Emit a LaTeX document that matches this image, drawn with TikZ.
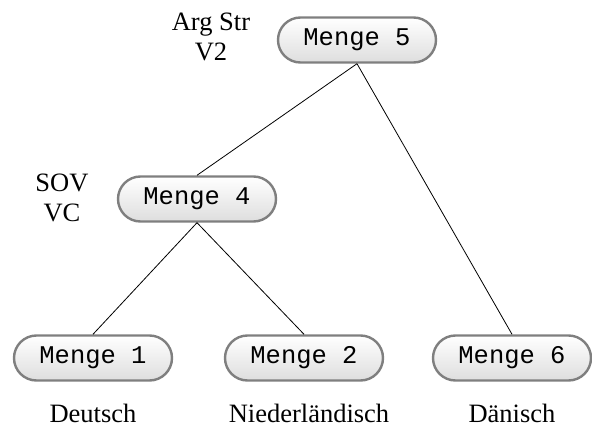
\documentclass[tikz,border=0pt]{standalone}
\usepackage{fontspec}
\setmainfont{Liberation Serif}
\newfontfamily\boxfont{Liberation Mono}
\usetikzlibrary{shapes.misc}
\definecolor{rimgray}{HTML}{7F7F7F}
\begin{document}
\begin{tikzpicture}[x=1pt,y=-1pt,
  setbox/.style={rounded rectangle, draw=rimgray, line width=2.4pt,
    top color=white, bottom color=black!13,
    minimum width=158pt, minimum height=45pt, inner sep=0pt,
    font=\boxfont\fontsize{25.5}{26}\selectfont},
  lang/.style={font=\fontsize{26.5}{27}\selectfont, inner sep=0pt},
  feat/.style={font=\fontsize{26.5}{30}\selectfont, align=center, inner sep=0pt},
  edge/.style={line width=0.8pt}]
  \useasboundingbox (0,0) rectangle (592,431);

  % tree nodes
  \node[setbox] (m5) at (357,40) {Menge 5};
  \node[setbox] (m4) at (197,199) {Menge 4};
  \node[setbox] (m1) at (93,358) {Menge 1};
  \node[setbox] (m2) at (304,358) {Menge 2};
  \node[setbox] (m6) at (512,358) {Menge 6};

  % feature annotations
  \node[feat] (f5) at (211,37) {Arg Str\\V2};
  \node[feat] (f4) at (62,198) {SOV\\VC};

  % language labels
  \node[lang] (l1) at (93,413) {Deutsch};
  \node[lang] (l2) at (309,413) {Niederländisch};
  \node[lang] (l6) at (512,413) {Dänisch};

  % branches
  \draw[edge] (m5.south) -- (m4.north);
  \draw[edge] (m5.south) -- (m6.north);
  \draw[edge] (m4.south) -- (m1.north);
  \draw[edge] (m4.south) -- (m2.north);
\end{tikzpicture}
\end{document}
